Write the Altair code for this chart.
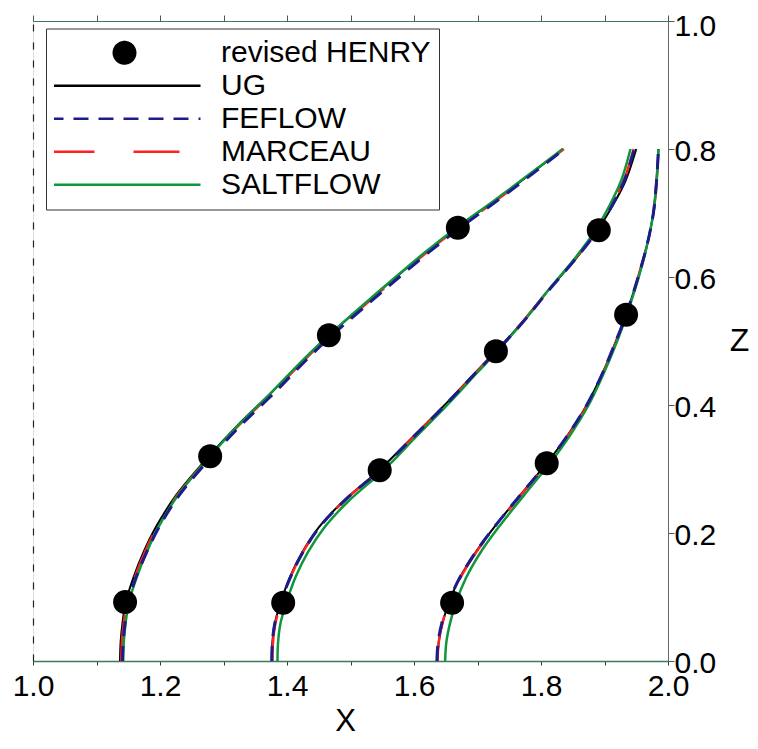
import math
import altair as alt
import pandas as pd

FONT = "Liberation Sans"

# ---------------- data ----------------
series_names = ["revised HENRY", "UG", "FEFLOW", "MARCEAU", "SALTFLOW"]
series_colors = ["#000000", "#000000", "#1c1c8c", "#ff2020", "#10963c"]

x_ticks = [1.0, 1.1, 1.2, 1.3, 1.4, 1.5, 1.6, 1.7, 1.8, 1.9, 2.0]
z_ticks = [0.0, 0.2, 0.4, 0.6, 0.8, 1.0]

# revised HENRY reference points
henry_x = [1.145, 1.279, 1.466, 1.669, 1.394, 1.546, 1.729, 1.891, 1.660, 1.809, 1.934]
henry_z = [0.092, 0.320, 0.509, 0.677, 0.091, 0.298, 0.484, 0.673, 0.091, 0.309, 0.541]

# curve A (left)
zA = [0.00, 0.03, 0.06, 0.092, 0.13, 0.17, 0.21, 0.26, 0.32, 0.37, 0.42, 0.47, 0.509, 0.56, 0.60, 0.64, 0.677, 0.72, 0.76, 0.80]
ug_A = [1.137, 1.138, 1.141, 1.146, 1.158, 1.174, 1.194, 1.226, 1.277, 1.324, 1.376, 1.425, 1.466, 1.525, 1.572, 1.620, 1.668, 1.728, 1.782, 1.835]
feflow_A = [1.141, 1.142, 1.145, 1.150, 1.162, 1.179, 1.199, 1.231, 1.282, 1.329, 1.381, 1.430, 1.471, 1.530, 1.577, 1.625, 1.673, 1.732, 1.785, 1.837]
marceau_A = [1.139, 1.140, 1.143, 1.148, 1.160, 1.176, 1.196, 1.228, 1.279, 1.326, 1.378, 1.427, 1.468, 1.527, 1.574, 1.622, 1.670, 1.730, 1.784, 1.836]
saltflow_A = [1.142, 1.143, 1.146, 1.151, 1.163, 1.179, 1.198, 1.229, 1.279, 1.325, 1.376, 1.425, 1.466, 1.524, 1.571, 1.619, 1.667, 1.727, 1.781, 1.834]

# curve B (middle)
zB = [0.00, 0.03, 0.06, 0.091, 0.13, 0.17, 0.21, 0.25, 0.298, 0.35, 0.408, 0.45, 0.484, 0.53, 0.58, 0.63, 0.673, 0.71, 0.75, 0.80]
ug_B = [1.376, 1.377, 1.381, 1.390, 1.404, 1.424, 1.451, 1.489, 1.545, 1.598, 1.656, 1.696, 1.729, 1.771, 1.812, 1.856, 1.889, 1.912, 1.933, 1.950]
feflow_B = [1.376, 1.377, 1.381, 1.390, 1.405, 1.425, 1.452, 1.490, 1.546, 1.599, 1.657, 1.697, 1.730, 1.772, 1.813, 1.856, 1.889, 1.911, 1.931, 1.947]
marceau_B = [1.377, 1.378, 1.382, 1.391, 1.405, 1.425, 1.452, 1.490, 1.546, 1.599, 1.657, 1.697, 1.729, 1.771, 1.812, 1.855, 1.888, 1.910, 1.930, 1.946]
saltflow_B = [1.385, 1.386, 1.390, 1.399, 1.413, 1.433, 1.460, 1.497, 1.552, 1.603, 1.660, 1.699, 1.731, 1.772, 1.812, 1.854, 1.886, 1.907, 1.926, 1.941]

# curve C (right)
zC = [0.00, 0.03, 0.06, 0.091, 0.13, 0.17, 0.21, 0.26, 0.309, 0.35, 0.40, 0.45, 0.50, 0.541, 0.60, 0.65, 0.70, 0.75, 0.80]
ug_C = [1.637, 1.639, 1.645, 1.655, 1.672, 1.697, 1.727, 1.768, 1.809, 1.840, 1.872, 1.897, 1.918, 1.934, 1.953, 1.967, 1.977, 1.982, 1.985]
feflow_C = [1.636, 1.638, 1.644, 1.654, 1.672, 1.697, 1.727, 1.768, 1.809, 1.840, 1.872, 1.897, 1.918, 1.934, 1.953, 1.967, 1.977, 1.982, 1.985]
marceau_C = [1.637, 1.639, 1.645, 1.655, 1.673, 1.698, 1.728, 1.769, 1.810, 1.841, 1.873, 1.898, 1.919, 1.935, 1.953, 1.967, 1.977, 1.982, 1.985]
saltflow_C = [1.649, 1.651, 1.657, 1.666, 1.682, 1.705, 1.734, 1.774, 1.814, 1.844, 1.875, 1.899, 1.920, 1.935, 1.954, 1.967, 1.977, 1.982, 1.985]

models = {
    "UG": [("A", zA, ug_A), ("B", zB, ug_B), ("C", zC, ug_C)],
    "FEFLOW": [("A", zA, feflow_A), ("B", zB, feflow_B), ("C", zC, feflow_C)],
    "MARCEAU": [("A", zA, marceau_A), ("B", zB, marceau_B), ("C", zC, marceau_C)],
    "SALTFLOW": [("A", zA, saltflow_A), ("B", zB, saltflow_B), ("C", zC, saltflow_C)],
}


def model_frame(name):
    rows = []
    for curve, zs, xs in models[name]:
        for zi, xi in zip(zs, xs):
            rows.append({"series": name, "curve": curve, "x": xi, "z": zi})
    return pd.DataFrame(rows)


henry_df = pd.DataFrame({"x": henry_x, "z": henry_z})

# ---------------- scales / axes ----------------
xscale = alt.Scale(domain=[1.0, 2.0], nice=False, zero=False)
yscale = alt.Scale(domain=[0.0, 1.0], nice=False, zero=False)
cscale = alt.Scale(domain=series_names, range=series_colors)

AXIS_GREEN = "#3f7a55"

# legend symbol: long stroke for the models, a small disc for the points
LEG_SIZE = 23104  # sqrt -> 152 px long stroke
r_unit = 10.7 / 76.0
disc = "M" + "L".join(
    f"{r_unit * math.cos(math.radians(a)):.4f},{r_unit * math.sin(math.radians(a)):.4f}"
    for a in range(0, 360, 12)
) + "Z"
is_h = "datum.value === 'revised HENRY'"

legend = alt.Legend(
    title=None,
    orient="none",
    legendX=13,
    legendY=7.5,
    padding=8,
    symbolType=alt.ExprRef(expr=f"{is_h} ? '{disc}' : 'stroke'"),
    symbolSize=LEG_SIZE,
    symbolOffset=-7,
    symbolStrokeWidth=2.6,
    symbolFillColor=alt.ExprRef(expr=f"{is_h} ? '#000000' : 'transparent'"),
    symbolDash=alt.ExprRef(
        expr="datum.value === 'FEFLOW' ? [15, 10] : (datum.value === 'MARCEAU' ? [46, 39] : [1, 0])"
    ),
    clipHeight=32.6,
    rowPadding=0,
    labelOffset=19,
    labelFont=FONT,
    labelFontSize=30,
    labelColor="#000000",
    labelLimit=400,
    strokeColor="#333333",
    fillColor="#ffffff",
)

x_bottom = alt.Axis(
    orient="bottom",
    values=x_ticks,
    labelExpr="round(datum.value * 10) % 2 == 0 ? format(datum.value, '.1f') : ''",
    tickSize=4,
    labelPadding=6,
    labelFont=FONT,
    labelFontSize=30,
    labelColor="#000000",
    labelFlush=False,
    labelOverlap=False,
    domainColor=AXIS_GREEN,
    domainWidth=1.5,
    tickColor="#333333",
    grid=False,
    title="X",
    titleFont=FONT,
    titleFontSize=31,
    titleFontWeight="normal",
    titleColor="#000000",
    titleX=312,
    titleY=69,
    titleAlign="center",
    titleBaseline="alphabetic",
)

y_right = alt.Axis(
    orient="right",
    values=z_ticks,
    format=".1f",
    tickSize=6,
    labelPadding=0,
    labelOffset={"condition": {"test": "datum.value >= 0.99", "value": 5}, "value": 2},
    labelFont=FONT,
    labelFontSize=30,
    labelColor="#000000",
    labelFlush=False,
    labelOverlap=False,
    domainColor="#666666",
    tickColor="#555555",
    grid=False,
    title="Z",
    titleFont=FONT,
    titleFontSize=32,
    titleFontWeight="normal",
    titleColor="#000000",
    titleAngle=0,
    titleX=71,
    titleY=319,
    titleAlign="center",
    titleBaseline="middle",
)

x_top = alt.Axis(
    orient="top",
    values=x_ticks,
    labels=False,
    tickSize=6,
    domainColor=AXIS_GREEN,
    tickColor="#555555",
    grid=False,
    title=None,
)

y_left = alt.Axis(
    orient="left",
    ticks=False,
    labels=False,
    domainColor="#222222",
    domainDash=[7, 11],
    domainWidth=1.2,
    grid=False,
    title=None,
)

styles = [
    ("UG", 2.0, None),
    ("MARCEAU", 2.5, [46, 39]),
    ("SALTFLOW", 2.5, None),
    ("FEFLOW", 3.0, [15, 10]),
]

line_layers = []
for i, (name, sw, dash) in enumerate(styles):
    mark_kwargs = dict(interpolate="catmull-rom", strokeWidth=sw, strokeCap="butt")
    if dash is not None:
        mark_kwargs["strokeDash"] = dash
    layer = alt.Chart(model_frame(name)).mark_line(**mark_kwargs).encode(
        x=alt.X("x:Q", scale=xscale, axis=x_bottom if i == 0 else None),
        y=alt.Y("z:Q", scale=yscale, axis=y_right if i == 0 else None),
        color=alt.Color("series:N", scale=cscale, legend=legend if i == 0 else None),
        detail="curve:N",
        order=alt.Order("z:Q"),
    )
    line_layers.append(layer)

points = alt.Chart(henry_df).mark_circle(size=576, color="#000000", opacity=1).encode(
    x=alt.X("x:Q", scale=xscale, axis=x_top),
    y=alt.Y("z:Q", scale=yscale, axis=y_left),
)

chart = alt.layer(*line_layers, points).properties(
    width=635,
    height=640,
    autosize=alt.AutoSizeParams(type="none"),
    padding={"left": 25, "top": 13, "right": 82, "bottom": 76},
).configure_view(stroke=None).configure(background="#ffffff")

chart.save("out.html", embed_options={"renderer": "svg", "actions": False})
